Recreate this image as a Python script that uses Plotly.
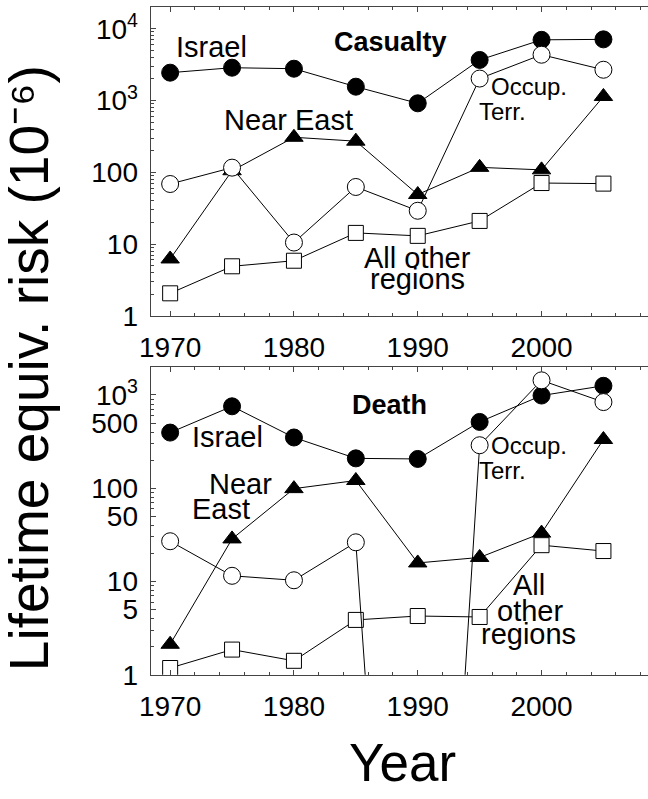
import plotly.graph_objects as go

# ---- data -------------------------------------------------------------
years = [1970, 1975, 1980, 1985, 1990, 1995, 2000, 2005]

# Casualty risk (lifetime equivalent, x 1e-6)
cas_israel = [2440, 2860, 2770, 1556, 913, 3670, 7000, 7100]
cas_occup = [68.6, 116, 10.5, 62.4, 29.1, 2020, 4340, 2680]
cas_near_east = [6.2, 105, 307, 271, 49, 117, 108, 1137]
cas_other = [2.06, 4.9, 5.86, 14.3, 13.0, 21, 70.8, 69.5]

# Death risk (lifetime equivalent, x 1e-6)
# no deaths recorded in the territories in 1990: a tiny positive value keeps
# the drop visible on the log scale (it falls off the bottom of the panel)
death_israel = [395, 756, 350, 209, 206, 514, 986, 1254]
death_occup = [27, 11.5, 10.3, 26.3, 1e-8, 289, 1435, 839]
death_near_east = [2.12, 28.6, 99, 121, 15.8, 18.1, 33, 333]
death_other = [1.18, 1.86, 1.41, 3.87, 4.26, 4.16, 24.5, 21.2]

x_ticks = [1970, 1980, 1990, 2000]
cas_ticks = [1, 10, 100, 1000, 10000]
cas_tick_text = ["1", "10", "100", "10<sup>3</sup>", "10<sup>4</sup>"]
death_ticks = [1, 5, 10, 50, 100, 500, 1000]
death_tick_text = ["1", "5", "10", "50", "100", "500", "10<sup>3</sup>"]

# ---- styling ----------------------------------------------------------
FONT = "Arial, 'Liberation Sans', Helvetica, sans-serif"
AXIS_COLOR = "#444444"
W, H = 648, 799

fig = go.Figure()

series_style = [
    # (marker symbol, size, fill)
    ("triangle-up", 16, "black"),
    ("square", 15, "white"),
    ("circle", 17, "black"),
    ("circle", 17, "white"),
]


def add_panel(values, xa, ya):
    for vals, (sym, size, fill) in zip(values, series_style):
        fig.add_trace(go.Scatter(
            x=years, y=vals, mode="lines+markers",
            xaxis=xa, yaxis=ya,
            line=dict(color="black", width=1),
            marker=dict(symbol=sym, size=size, color=fill,
                        line=dict(color="black", width=1)),
            showlegend=False, hoverinfo="skip",
        ))


add_panel([cas_near_east, cas_other, cas_israel, cas_occup], "x", "y")
add_panel([death_near_east, death_other, death_israel, death_occup], "x2", "y2")


def minor_log_vals(top_exp):
    vals = []
    for e in range(0, top_exp + 1):
        for m in range(2, 10):
            vals.append(m * 10 ** e)
    return vals


x_dom = [142 / W, 1.0]
top_dom = [1 - 322.3 / H, 1 - 7.3 / H]
bot_dom = [1 - 688.5 / H, 1 - 374.5 / H]

xaxis_common = dict(
    range=[1968.42, 2008.6], domain=x_dom,
    tickmode="array", tickvals=x_ticks,
    ticks="inside", ticklen=5, tickwidth=1, tickcolor=AXIS_COLOR,
    minor=dict(tickmode="linear", tick0=1970, dtick=2, ticks="inside",
               ticklen=3, tickwidth=1, tickcolor=AXIS_COLOR),
    showline=True, linecolor=AXIS_COLOR, linewidth=1, mirror="ticks",
    showgrid=False, zeroline=False,
    tickfont=dict(family=FONT, size=28, color="black"),
    ticklabelstandoff=7,
)

# the frame runs off the right edge of the page, so only the left y line shows
yaxis_common = dict(
    type="log",
    ticks="inside", ticklen=5, tickwidth=1, tickcolor=AXIS_COLOR,
    showline=True, linecolor=AXIS_COLOR, linewidth=1, mirror=False,
    showgrid=False, zeroline=False,
    tickfont=dict(family=FONT, size=28, color="black"),
    ticklabelstandoff=6,
)

fig.update_layout(
    width=W, height=H,
    margin=dict(l=0, r=0, t=0, b=0),
    paper_bgcolor="white", plot_bgcolor="white",
    font=dict(family=FONT, color="black"),
    xaxis=dict(anchor="y", **xaxis_common),
    xaxis2=dict(anchor="y2", **xaxis_common),
    yaxis=dict(anchor="x", domain=top_dom, range=[0, 4.3],
               tickmode="array", tickvals=cas_ticks, ticktext=cas_tick_text,
               minor=dict(tickmode="array", tickvals=minor_log_vals(4),
                          ticks="inside", ticklen=3, tickwidth=1,
                          tickcolor=AXIS_COLOR),
               **yaxis_common),
    yaxis2=dict(anchor="x2", domain=bot_dom, range=[0, 3.3],
                tickmode="array", tickvals=death_ticks, ticktext=death_tick_text,
                minor=dict(tickmode="array", tickvals=minor_log_vals(3),
                           ticks="inside", ticklen=3, tickwidth=1,
                           tickcolor=AXIS_COLOR),
                **yaxis_common),
)

# ---- in-panel labels --------------------------------------------------
labels = [
    # (text, year, log10 y, axis suffix, size, bold)
    ("Israel", 1973.35, 3.748, "", 29, False),
    ("Casualty", 1987.76, 3.817, "", 27, True),
    ("Near East", 1979.56, 2.733, "", 29, False),
    ("Occup.", 1998.96, 3.190, "", 24, False),
    ("Terr.", 1996.86, 2.842, "", 24, False),
    ("All other", 1990.0, 0.80, "", 29, False),
    ("regions", 1990.0, 0.52, "", 29, False),
    ("Death", 1987.74, 2.895, "2", 27, True),
    ("Israel", 1974.6, 2.547, "2", 29, False),
    ("Near", 1975.7, 2.045, "2", 29, False),
    ("East", 1974.1, 1.773, "2", 29, False),
    ("Occup.", 1998.96, 2.458, "2", 24, False),
    ("Terr.", 1996.86, 2.191, "2", 24, False),
    ("All", 1999.0, 0.957, "2", 29, False),
    ("other", 1999.1, 0.685, "2", 29, False),
    ("regions", 1998.96, 0.44, "2", 29, False),
]
for text, xv, yv, ax, size, bold in labels:
    fig.add_annotation(
        text=f"<b>{text}</b>" if bold else text,
        x=xv, y=yv, xref="x" + ax, yref="y" + ax,
        showarrow=False, xanchor="center", yanchor="middle",
        font=dict(family=FONT, size=size, color="black"),
    )

# ---- shared axis titles ----------------------------------------------
fig.add_annotation(
    text="Lifetime equiv. risk (10⁻⁶)",
    x=19 / W, y=1 - 376 / H, xref="paper", yref="paper",
    showarrow=False, textangle=-90, xanchor="center", yanchor="middle",
    font=dict(family=FONT, size=55, color="black"),
)
fig.add_annotation(
    text="Year",
    x=398 / W, y=1 - 778 / H, xref="paper", yref="paper",
    showarrow=False, xanchor="center", yanchor="middle",
    font=dict(family=FONT, size=53, color="black"),
)

fig.write_html("out.html")
